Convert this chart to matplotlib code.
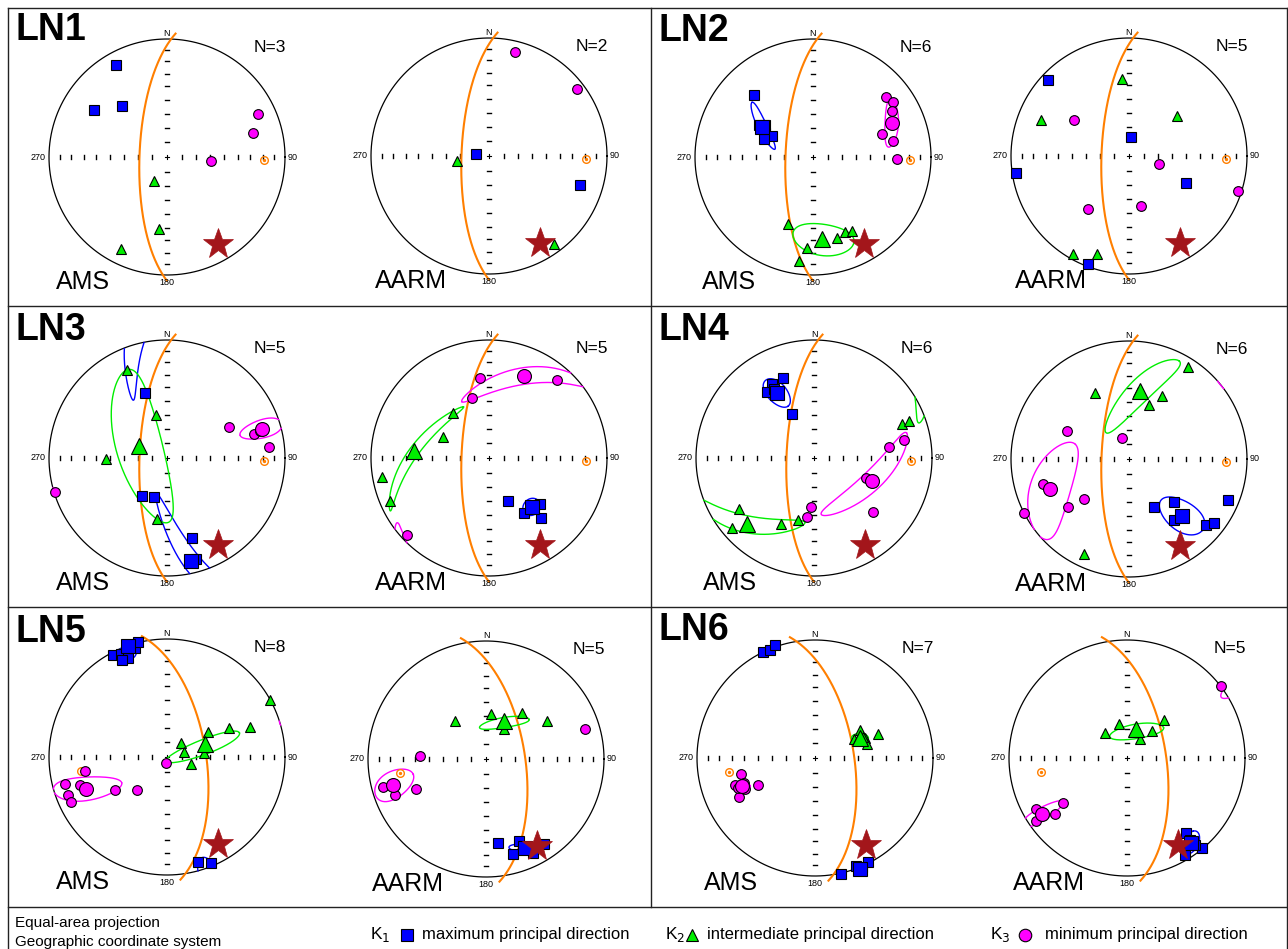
import numpy as np
import matplotlib
matplotlib.use('Agg')
import matplotlib.pyplot as plt
from matplotlib.lines import Line2D

plt.rcParams['font.family'] = ['Liberation Sans', 'DejaVu Sans']

W, H = 1288, 949

# ---------------- data (equal-area projection coords, unit radius; x=E, y=N) -------------
# bedding planes (dip direction, dip) and reference direction (trend, plunge)
plane_ln1_4 = (272, 71)
plane_ln5_6 = (81, 63)
star_dir = (150, 15.5)

ln1_ams_k1 = [(-0.432, 0.781), (-0.616, 0.398), (-0.381, 0.435)]
ln1_ams_k2 = [(-0.114, -0.207), (-0.065, -0.611), (-0.392, -0.781)]
ln1_ams_k3 = [(0.767, 0.364), (0.727, 0.205), (0.369, -0.031)]

ln1_aarm_k1 = [(-0.114, 0.014), (0.767, -0.244)]
ln1_aarm_k2 = [(-0.273, -0.043), (0.554, -0.747)]
ln1_aarm_k3 = [(0.219, 0.878), (0.744, 0.565)]

ln2_ams_k1 = [(-0.5, 0.523), (-0.46, 0.273), (-0.409, 0.270), (-0.403, 0.207), (-0.347, 0.179), (-0.418, 0.156)]
ln2_ams_k2 = [(-0.216, -0.565), (-0.048, -0.773), (-0.122, -0.881), (0.207, -0.688), (0.270, -0.636), (0.330, -0.628)]
ln2_ams_k3 = [(0.622, 0.511), (0.679, 0.463), (0.673, 0.389), (0.585, 0.199), (0.679, 0.139), (0.713, -0.017)]
ln2_ams_means = [(-0.432, 0.25), (0.077, -0.696), (0.668, 0.287)]
# ellipses: centre x, y, major-axis tip x, y, minor semi-angle (deg)
ln2_ams_ell = [(-0.432, 0.264, -0.517, 0.463, 3), (0.085, -0.707, 0.344, -0.736, 12), (0.668, 0.287, 0.662, 0.491, 5)]

ln2_aarm_k1 = [(-0.69, 0.645), (0.017, 0.162), (-0.955, -0.145), (0.48, -0.227), (-0.349, -0.918)]
ln2_aarm_k2 = [(-0.0625, 0.653), (-0.744, 0.304), (0.403, 0.341), (-0.477, -0.832), (-0.273, -0.827)]
ln2_aarm_k3 = [(-0.466, 0.304), (0.25, -0.065), (0.926, -0.298), (-0.344, -0.452), (0.105, -0.42)]

ln3_ams_k1 = [(-0.19, 0.554), (-0.21, -0.318), (-0.111, -0.327), (0.213, -0.676), (0.244, -0.858)]
ln3_ams_k2 = [(-0.338, 0.747), (-0.097, 0.361), (-0.517, -0.009), (-0.082, -0.52), (-0.247, 0.091)]
ln3_ams_k3 = [(0.528, 0.261), (0.736, 0.207), (0.790, 0.233), (0.861, 0.094), (-0.949, -0.284)]
ln3_ams_means = [(0.202, -0.869), (-0.239, 0.099), (0.807, 0.247)]
ln3_ams_ell = [(0.202, -0.869, -0.091, -0.298, 5), (-0.239, 0.099, -0.33, 0.75, 16), (0.807, 0.247, 0.619, 0.193, 5)]

ln3_aarm_k1 = [(0.159, -0.364), (0.295, -0.469), (0.432, -0.392), (0.437, -0.506), (0.381, -0.398)]
ln3_aarm_k2 = [(-0.307, 0.384), (-0.392, 0.179), (-0.906, -0.162), (-0.838, -0.364), (-0.628, 0.043)]
ln3_aarm_k3 = [(-0.074, 0.676), (0.580, 0.662), (-0.145, 0.511), (-0.693, -0.653), (0.29, 0.702)]
ln3_aarm_means = [(0.361, -0.415), (-0.634, 0.057), (0.295, 0.696)]
ln3_aarm_ell = [(0.361, -0.415, 0.428, -0.376, 6), (-0.634, 0.057, -0.216, 0.432, 3.5), (0.295, 0.696, -0.23, 0.477, 6)]

ln4_ams_k1 = [(-0.264, 0.682), (-0.352, 0.631), (-0.395, 0.560), (-0.338, 0.582), (-0.301, 0.545), (-0.190, 0.375)]
ln4_ams_k2 = [(-0.639, -0.432), (-0.693, -0.591), (-0.276, -0.560), (-0.136, -0.526), (0.747, 0.284), (0.804, 0.3125)]
ln4_ams_k3 = [(0.636, 0.091), (0.764, 0.156), (0.4375, -0.170), (-0.026, -0.412), (-0.0625, -0.503), (0.5, -0.460)]
ln4_ams_means = [(-0.315, 0.554), (-0.568, -0.5625), (0.491, -0.193)]
ln4_ams_ell = [(-0.315, 0.554, -0.22, 0.439, 6), (-0.568, -0.5625, -0.077, -0.545, 6), (0.491, -0.193, 0.784, 0.213, 7)]

ln4_aarm_k1 = [(0.216, -0.409), (0.381, -0.364), (0.381, -0.520), (0.653, -0.557), (0.724, -0.543), (0.835, -0.349)]
ln4_aarm_k2 = [(-0.287, 0.560), (0.278, 0.537), (0.170, 0.460), (0.503, 0.778), (-0.384, -0.804), (0.080, 0.568)]
ln4_aarm_k3 = [(-0.526, 0.241), (-0.0625, 0.176), (-0.730, -0.213), (-0.514, -0.403), (-0.384, -0.335), (-0.889, -0.460)]
ln4_aarm_means = [(0.452, -0.486), (0.091, 0.580), (-0.673, -0.256)]
ln4_aarm_ell = [(0.452, -0.486, 0.622, -0.605, 9), (0.091, 0.58, 0.426, 0.83, 7.5), (-0.673, -0.256, -0.455, 0.125, 14)]

ln5_ams_k1 = [(-0.4545, 0.866), (-0.392, 0.869), (-0.332, 0.841), (-0.381, 0.818), (-0.27, 0.926), (-0.25, 0.972), (0.2585, -0.892), (0.375, -0.901)]
ln5_ams_k2 = [(0.875, 0.486), (0.116, 0.116), (0.148, 0.045), (0.207, -0.0625), (0.344, 0.216), (0.528, 0.25), (0.705, 0.256), (0.3125, 0.031)]
ln5_ams_k3 = [(-0.696, -0.119), (-0.866, -0.233), (-0.739, -0.241), (-0.838, -0.324), (-0.81, -0.381), (-0.4375, -0.281), (-0.256, -0.276), (-0.0085, -0.051)]
ln5_ams_means = [(-0.327, 0.9375), (0.324, 0.108), (-0.690, -0.270)]
ln5_ams_ell = [(-0.327, 0.9375, -0.292, 0.838, 4), (0.3125, 0.085, 0.614, 0.2045, 5), (-0.69, -0.27, -0.3835, -0.219, 7)]

ln5_aarm_k1 = [(0.105, -0.716), (0.281, -0.693), (0.230, -0.807), (0.395, -0.793), (0.491, -0.722)]
ln5_aarm_k2 = [(-0.264, 0.323), (0.040, 0.381), (0.301, 0.394), (0.513, 0.323), (0.156, 0.258)]
ln5_aarm_k3 = [(-0.556, 0.028), (0.839, 0.253), (-0.870, -0.241), (-0.768, -0.301), (-0.592, -0.253)]
ln5_aarm_means = [(0.330, -0.756), (0.156, 0.323), (-0.787, -0.219)]
ln5_aarm_ell = [(0.27, -0.75, 0.345, -0.75, 2.5), (0.156, 0.31, 0.366, 0.335, 3.5), (-0.787, -0.219, -0.616, -0.131, 7.5)]

ln6_ams_k1 = [(-0.443, 0.898), (-0.3835, 0.918), (-0.335, 0.960), (0.224, -0.983), (0.347, -0.915), (0.395, -0.926), (0.449, -0.878)]
ln6_ams_k2 = [(0.381, 0.239), (0.332, 0.159), (0.361, 0.165), (0.423, 0.168), (0.440, 0.116), (0.531, 0.2045), (0.403, 0.182)]
ln6_ams_k3 = [(-0.628, -0.1335), (-0.676, -0.230), (-0.486, -0.230), (-0.648, -0.332), (-0.656, -0.253), (-0.591, -0.261), (-0.605, -0.210)]
ln6_ams_means = [(0.381, -0.940), (0.381, 0.170), (-0.619, -0.239)]
ln6_ams_ell = [None, (0.381, 0.17, 0.452, 0.17, 3), (-0.619, -0.239, -0.549, -0.239, 3)]

ln6_aarm_k1 = [(0.5, -0.639), (0.534, -0.699), (0.494, -0.824), (0.636, -0.761), (0.580, -0.739)]
ln6_aarm_k2 = [(-0.068, 0.284), (0.210, 0.227), (0.310, 0.324), (-0.190, 0.210), (0.114, 0.162)]
ln6_aarm_k3 = [(0.793, 0.608), (-0.545, -0.381), (-0.770, -0.435), (-0.614, -0.477), (-0.770, -0.534)]
ln6_aarm_means = [(0.545, -0.719), (0.077, 0.247), (-0.722, -0.477)]
ln6_aarm_ell = [(0.545, -0.719, 0.56, -0.62, 5), (0.082, 0.227, 0.31, 0.256, 5), (-0.722, -0.477, -0.543, -0.369, 3.5)]

sample_labels = ['LN1', 'LN2', 'LN3', 'LN4', 'LN5', 'LN6']
n_specimens = {'LN1': (3, 2), 'LN2': (6, 5), 'LN3': (5, 5), 'LN4': (6, 6), 'LN5': (8, 5), 'LN6': (7, 5)}

# ---------------- helpers ----------------
def to_vec(x, y):
    r = min(np.hypot(x, y), 1.0)
    th = 2 * np.arcsin(r / np.sqrt(2))
    tr = np.arctan2(x, y)
    return np.array([np.sin(th) * np.cos(tr), np.sin(th) * np.sin(tr), np.cos(th)])


def tp_vec(trend, plunge):
    t, p = np.radians(trend), np.radians(plunge)
    return np.array([np.cos(p) * np.cos(t), np.cos(p) * np.sin(t), np.sin(p)])


def proj(v):
    n, e, d = v
    r = np.sqrt(np.clip(1 - d, 0, None))
    h = np.hypot(n, e)
    h = np.where(h < 1e-12, 1, h)
    return r * e / h, r * n / h


BLUE = '#0000FF'
GREEN = '#00EE00'
MAG = '#FF00FF'
ORANGE = '#FF7F00'
STAR = '#A3161B'
R = 118.0
LIM = 1.38


def conf_ellipse(ax, spec, color):
    cx, cy, tx, ty, minor = spec
    m = to_vec(cx, cy)
    tv = to_vec(tx, ty)
    c = np.clip(np.dot(m, tv), -1, 1)
    a1 = np.arccos(c)
    e1 = tv - c * m
    e1 /= np.linalg.norm(e1)
    e2 = np.cross(m, e1)
    a2 = np.radians(minor)
    t = np.linspace(0, 2 * np.pi, 721)
    v = m[:, None] + np.tan(a1) * np.cos(t) * e1[:, None] + np.tan(a2) * np.sin(t) * e2[:, None]
    v /= np.linalg.norm(v, axis=0)
    up = v[2] < 0
    v[:, up] *= -1
    x, y = proj(v)
    idx = np.where(np.diff(up.astype(int)) != 0)[0] + 1
    for seg in np.split(np.arange(len(t)), idx):
        if len(seg) > 1:
            ax.plot(x[seg], y[seg], color=color, lw=1.0, zorder=3)


def stereonet(cx, cy, kind, n, k1, k2, k3, means=None, ells=None, plane=plane_ln1_4):
    L = LIM * R
    ax = fig.add_axes([(cx - L) / W, 1 - (cy + L) / H, 2 * L / W, 2 * L / H])
    ax.set_xlim(-LIM, LIM)
    ax.set_ylim(-LIM, LIM)
    ax.axis('off')
    th = np.linspace(0, 2 * np.pi, 500)
    ax.plot(np.cos(th), np.sin(th), color='black', lw=0.9, zorder=1)
    # 10-degree ticks along the axes
    rt = np.sqrt(1 - np.sin(np.radians(np.arange(10, 90, 10))))
    for r in rt:
        for s in (1, -1):
            ax.plot([s * r, s * r], [-0.017, 0.017], color='black', lw=1.0, zorder=1)
            ax.plot([-0.017, 0.017], [s * r, s * r], color='black', lw=1.0, zorder=1)
    ax.plot([-0.02, 0.02], [0, 0], color='black', lw=0.8, zorder=1)
    ax.plot([0, 0], [-0.02, 0.02], color='black', lw=0.8, zorder=1)
    ax.text(0, 1.05, 'N', fontsize=6.5, ha='center', va='center')
    ax.text(1.025, 0, '90', fontsize=6.5, ha='left', va='center')
    ax.text(-1.03, 0, '270', fontsize=6.5, ha='right', va='center')
    ax.text(0, -1.065, '180', fontsize=6.5, ha='center', va='center')
    ax.text(0.87, 0.93, f'N={n}', fontsize=12.5, ha='center', va='center')
    ax.text(-0.715 if kind == 'AMS' else -0.66, -1.06, kind, fontsize=18, ha='center', va='center')
    # bedding great circle and its pole
    dd, dip = plane
    s = tp_vec(dd + 90, 0)
    dv = tp_vec(dd, dip)
    t = np.radians(np.linspace(-6, 186, 400))
    gv = np.outer(s, np.cos(t)) + np.outer(dv, np.sin(t))
    gx, gy = proj(gv)
    ax.plot(gx, gy, color=ORANGE, lw=1.5, zorder=2)
    px, py = proj(tp_vec(dd + 180, 90 - dip))
    ax.plot(px, py, marker='o', ms=5.5, mfc='none', mec=ORANGE, mew=1.0, zorder=4)
    ax.plot(px, py, marker='o', ms=1.4, mfc=ORANGE, mec=ORANGE, zorder=4)
    # confidence ellipses
    if ells:
        for spec, col in zip(ells, (BLUE, GREEN, MAG)):
            if spec is not None:
                conf_ellipse(ax, spec, col)
    # specimen directions
    for pts, mk, col, ms in ((k1, 's', BLUE, 6.6), (k2, '^', GREEN, 7.2), (k3, 'o', MAG, 7.0)):
        xs = [p[0] for p in pts]
        ys = [p[1] for p in pts]
        ax.plot(xs, ys, ls='none', marker=mk, ms=ms, mfc=col, mec='black', mew=0.8, zorder=5)
    if means:
        for p, mk, col, ms in zip(means, ('s', '^', 'o'), (BLUE, GREEN, MAG), (9.5, 11, 10)):
            ax.plot(p[0], p[1], ls='none', marker=mk, ms=ms, mfc=col, mec='black', mew=0.8, zorder=6)
    sx, sy = proj(tp_vec(*star_dir))
    ax.plot(sx, sy, marker='*', ms=23, mfc=STAR, mec=STAR, mew=0.5, zorder=7)
    return ax


fig = plt.figure(figsize=(W / 100, H / 100), dpi=100)
fig.patch.set_facecolor('white')

panels = [
    (167, 157, 'AMS', 'LN1', 0, ln1_ams_k1, ln1_ams_k2, ln1_ams_k3, None, None, plane_ln1_4),
    (489, 156, 'AARM', 'LN1', 1, ln1_aarm_k1, ln1_aarm_k2, ln1_aarm_k3, None, None, plane_ln1_4),
    (813, 157, 'AMS', 'LN2', 0, ln2_ams_k1, ln2_ams_k2, ln2_ams_k3, ln2_ams_means, ln2_ams_ell, plane_ln1_4),
    (1129, 156, 'AARM', 'LN2', 1, ln2_aarm_k1, ln2_aarm_k2, ln2_aarm_k3, None, None, plane_ln1_4),
    (167, 458, 'AMS', 'LN3', 0, ln3_ams_k1, ln3_ams_k2, ln3_ams_k3, ln3_ams_means, ln3_ams_ell, plane_ln1_4),
    (489, 458, 'AARM', 'LN3', 1, ln3_aarm_k1, ln3_aarm_k2, ln3_aarm_k3, ln3_aarm_means, ln3_aarm_ell, plane_ln1_4),
    (814, 458, 'AMS', 'LN4', 0, ln4_ams_k1, ln4_ams_k2, ln4_ams_k3, ln4_ams_means, ln4_ams_ell, plane_ln1_4),
    (1129, 459, 'AARM', 'LN4', 1, ln4_aarm_k1, ln4_aarm_k2, ln4_aarm_k3, ln4_aarm_means, ln4_aarm_ell, plane_ln1_4),
    (167, 757, 'AMS', 'LN5', 0, ln5_ams_k1, ln5_ams_k2, ln5_ams_k3, ln5_ams_means, ln5_ams_ell, plane_ln5_6),
    (486, 759, 'AARM', 'LN5', 1, ln5_aarm_k1, ln5_aarm_k2, ln5_aarm_k3, ln5_aarm_means, ln5_aarm_ell, plane_ln5_6),
    (815, 758, 'AMS', 'LN6', 0, ln6_ams_k1, ln6_ams_k2, ln6_ams_k3, ln6_ams_means, ln6_ams_ell, plane_ln5_6),
    (1127, 758, 'AARM', 'LN6', 1, ln6_aarm_k1, ln6_aarm_k2, ln6_aarm_k3, ln6_aarm_means, ln6_aarm_ell, plane_ln5_6),
]
for cx, cy, kind, lab, j, k1, k2, k3, means, ells, plane in panels:
    stereonet(cx, cy, kind, n_specimens[lab][j], k1, k2, k3, means, ells, plane)


def fx(x):
    return x / W


def fy(y):
    return 1 - y / H


# sample labels
label_pos = [(16, 30), (658, 31), (15, 330), (658, 330), (15, 632), (658, 630)]
for lab, (x, y) in zip(sample_labels, label_pos):
    fig.text(fx(x), fy(y), lab, fontsize=27, fontweight='bold', ha='left', va='center')

# frame lines
def fline(x0, y0, x1, y1):
    fig.add_artist(Line2D([fx(x0), fx(x1)], [fy(y0), fy(y1)], color='#222222', lw=1.0))

for y in (8, 306, 607, 907):
    fline(8, y, 1288, y)
fline(8, 8, 8, 949)
fline(651, 8, 651, 907)
fline(1286.5, 8, 1286.5, 949)

# legend
fig.text(fx(15), fy(923), 'Equal-area projection', fontsize=11, ha='left', va='center')
fig.text(fx(15), fy(942), 'Geographic coordinate system', fontsize=11, ha='left', va='center')
leg = [(370, 407, 422, 's', BLUE, 8, 'K$_1$', 'maximum principal direction'),
       (665, 692, 707, '^', GREEN, 9, 'K$_2$', 'intermediate principal direction'),
       (990, 1025, 1045, 'o', MAG, 9, 'K$_3$', 'minimum principal direction')]
for xk, xm, xt, mk, col, ms, k, txt in leg:
    fig.text(fx(xk), fy(935), k, fontsize=12.5, ha='left', va='center')
    fig.add_artist(Line2D([fx(xm)], [fy(935)], marker=mk, ms=ms, mfc=col, mec='black', mew=0.8, ls='none'))
    fig.text(fx(xt), fy(935), txt, fontsize=12, ha='left', va='center')

fig.savefig('out.png', dpi=100, facecolor='white')
